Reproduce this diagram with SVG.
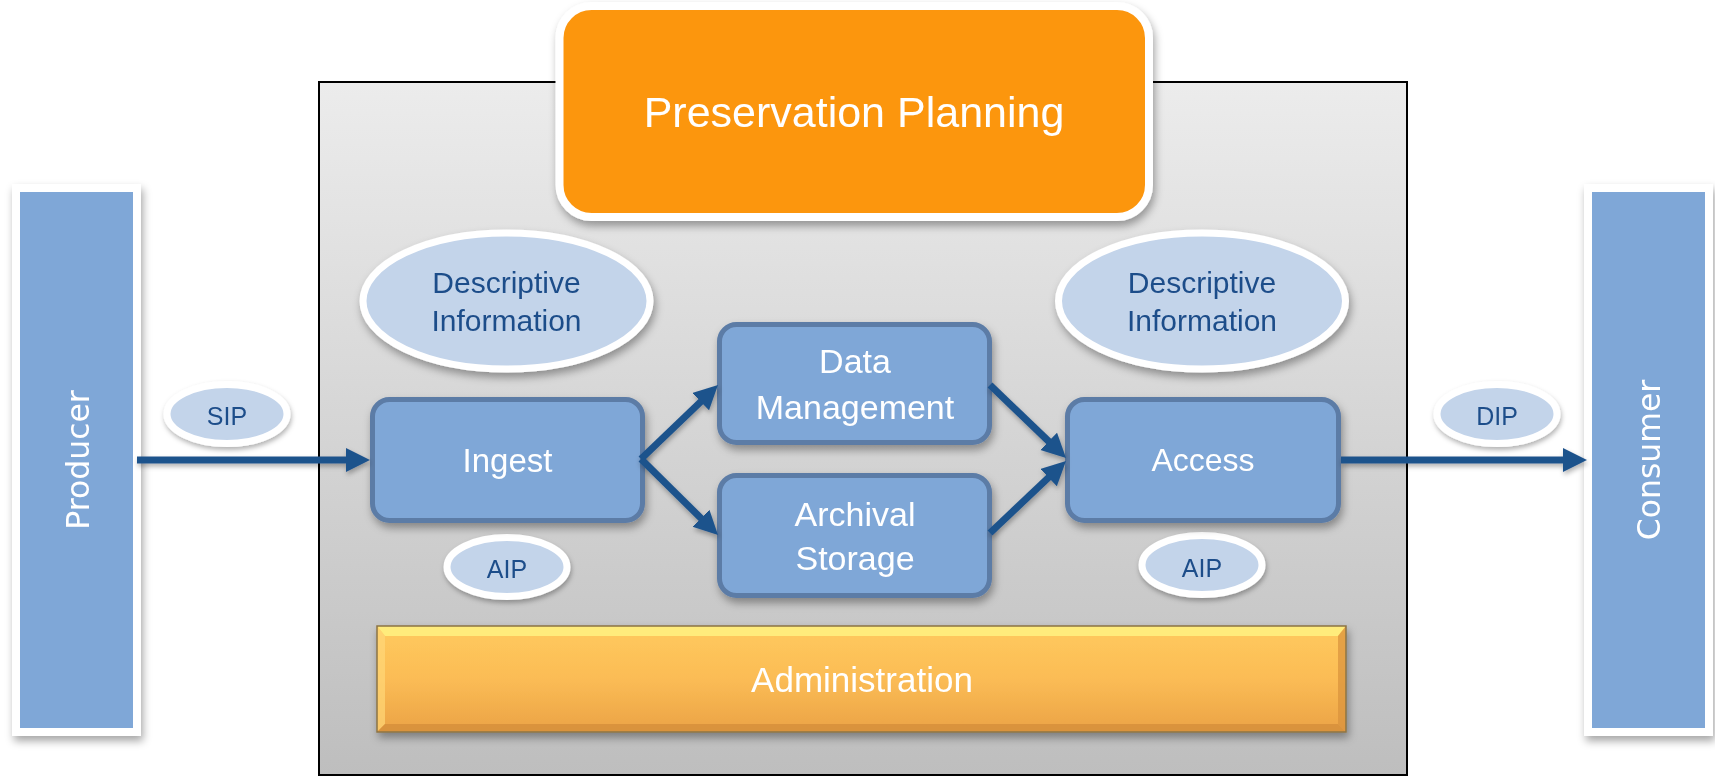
<svg xmlns="http://www.w3.org/2000/svg" width="1715" height="777" viewBox="0 0 1715 777">
<style>
.lbl{font-family:"Liberation Sans",Arial,sans-serif;fill:#ffffff;text-anchor:middle}
.pill{font-family:"Liberation Sans",Arial,sans-serif;fill:#1F4E8A;text-anchor:middle}
.side{font-family:"DejaVu Sans",Verdana,sans-serif;fill:#ffffff;text-anchor:middle;font-size:31.5px}
.box{fill:#7FA7D7;stroke:#5B7BA6;stroke-width:5}
.ell{fill:#C3D4EA;stroke:#ffffff;stroke-width:7}
.bar{fill:#7FA7D7;stroke:#ffffff;stroke-width:8}
.conn{stroke:#1F538C;stroke-width:7;fill:none;marker-end:url(#ah)}
</style>
<defs>
<linearGradient id="bg" x1="0" y1="0" x2="0" y2="1">
<stop offset="0" stop-color="#ECECEC"/>
<stop offset="1" stop-color="#BEBEBE"/>
</linearGradient>
<linearGradient id="adm" x1="0" y1="0" x2="0" y2="1">
<stop offset="0" stop-color="#FFCA5E"/>
<stop offset="0.5" stop-color="#FBBC55"/>
<stop offset="1" stop-color="#EBA346"/>
</linearGradient>
<filter id="sh" x="-20%" y="-20%" width="140%" height="150%">
<feDropShadow dx="2" dy="5" stdDeviation="4" flood-color="#000" flood-opacity="0.35"/>
</filter>
<filter id="sh2" x="-20%" y="-20%" width="140%" height="160%">
<feDropShadow dx="1" dy="3" stdDeviation="2.5" flood-color="#000" flood-opacity="0.3"/>
</filter>
<marker id="ah" markerUnits="userSpaceOnUse" markerWidth="26" markerHeight="26" refX="4" refY="12" orient="auto">
<path d="M0,0 L24,12 L0,24 z" fill="#1F538C"/>
</marker>
</defs>

<g id="oais-frame">
<rect x="319" y="82" width="1088" height="693" fill="url(#bg)" stroke="#000" stroke-width="2"/>
</g>

<g id="preservation-planning" filter="url(#sh)">
<rect x="559.5" y="6" width="589.5" height="211" rx="32" fill="#FC9611" stroke="#ffffff" stroke-width="8"/>
<text class="lbl" x="854" y="127" font-size="43">Preservation Planning</text>
</g>

<g id="producer" filter="url(#sh)">
<rect class="bar" x="16" y="188" width="121" height="544"/>
<text class="side" transform="translate(88.5,460) rotate(-90)">Producer</text>
</g>

<g id="consumer" filter="url(#sh)">
<rect class="bar" x="1588" y="188" width="121" height="544"/>
<text class="side" transform="translate(1660,460) rotate(-90)">Consumer</text>
</g>

<g id="descriptive-info-left" filter="url(#sh)">
<ellipse class="ell" cx="506.5" cy="301" rx="143.5" ry="68"/>
<text class="pill" x="506.5" y="293" font-size="30">Descriptive</text>
<text class="pill" x="506.5" y="331" font-size="30">Information</text>
</g>

<g id="descriptive-info-right" filter="url(#sh)">
<ellipse class="ell" cx="1202" cy="301" rx="143.5" ry="68"/>
<text class="pill" x="1202" y="293" font-size="30">Descriptive</text>
<text class="pill" x="1202" y="331" font-size="30">Information</text>
</g>

<g id="sip" filter="url(#sh2)">
<ellipse class="ell" cx="227" cy="414" rx="60" ry="29.5"/>
<text class="pill" x="227" y="425" font-size="25">SIP</text>
</g>

<g id="dip" filter="url(#sh2)">
<ellipse class="ell" cx="1497" cy="414" rx="60" ry="29.5"/>
<text class="pill" x="1497" y="425" font-size="25">DIP</text>
</g>

<g id="aip-left" filter="url(#sh2)">
<ellipse class="ell" cx="507" cy="567" rx="60" ry="29.5"/>
<text class="pill" x="507" y="578" font-size="25">AIP</text>
</g>

<g id="aip-right" filter="url(#sh2)">
<ellipse class="ell" cx="1202" cy="565" rx="60" ry="29.5"/>
<text class="pill" x="1202" y="577" font-size="25">AIP</text>
</g>

<g id="ingest" filter="url(#sh)">
<rect class="box" x="372.5" y="399.5" width="270" height="121" rx="17"/>
<text class="lbl" x="507.5" y="472" font-size="33">Ingest</text>
</g>

<g id="data-management" filter="url(#sh)">
<rect class="box" x="719.5" y="324.5" width="270" height="118" rx="17"/>
<text class="lbl" x="855" y="373" font-size="34">Data</text>
<text class="lbl" x="855" y="419" font-size="34">Management</text>
</g>

<g id="archival-storage" filter="url(#sh)">
<rect class="box" x="719.5" y="475.5" width="270" height="120" rx="17"/>
<text class="lbl" x="855" y="526" font-size="34">Archival</text>
<text class="lbl" x="855" y="570" font-size="34">Storage</text>
</g>

<g id="access" filter="url(#sh)">
<rect class="box" x="1067.5" y="399.5" width="271" height="121" rx="17"/>
<text class="lbl" x="1203" y="471" font-size="32">Access</text>
</g>

<g id="administration" filter="url(#sh)">
<rect x="377" y="626" width="969" height="106" fill="url(#adm)"/>
<polygon points="377,626 1346,626 1338,636 385,636" fill="#FFEF80" opacity="0.9"/>
<polygon points="377,626 385,636 385,724 377,732" fill="#FFD777" opacity="0.7"/>
<polygon points="1346,626 1346,732 1338,724 1338,636" fill="#D9923C" opacity="0.7"/>
<polygon points="377,732 385,724 1338,724 1346,732" fill="#D48E3A" opacity="0.8"/>
<rect x="377" y="626" width="969" height="106" fill="none" stroke="#8C7445" stroke-width="1.5"/>
<text class="lbl" x="862" y="692" font-size="35">Administration</text>
</g>

<g id="connectors" filter="url(#sh2)">
<line class="conn" x1="137" y1="460" x2="350" y2="460"/>
<line class="conn" x1="641" y1="459" x2="703.6" y2="398.9"/>
<line class="conn" x1="641" y1="459" x2="703.8" y2="521"/>
<line class="conn" x1="990" y1="385" x2="1051.6" y2="444.1"/>
<line class="conn" x1="990" y1="533" x2="1051.5" y2="474.8"/>
<line class="conn" x1="1341" y1="460" x2="1567" y2="460"/>
</g>
</svg>
